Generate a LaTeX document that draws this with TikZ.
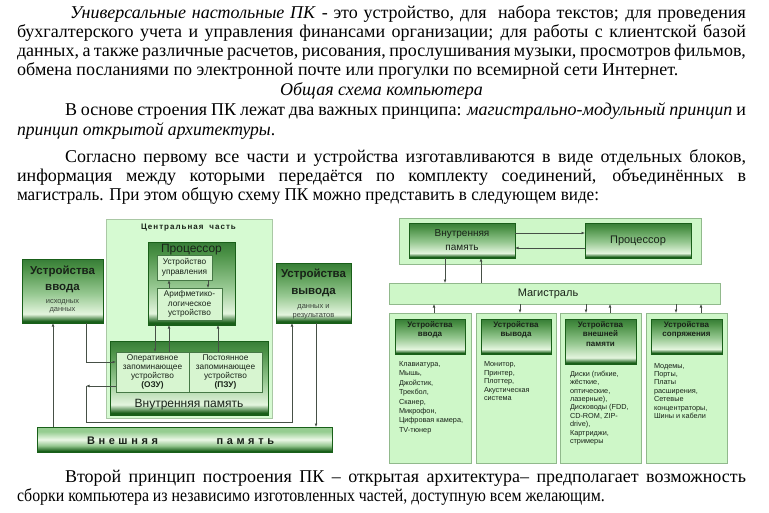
\documentclass[tikz,border=0pt]{standalone}
\usepackage{fontspec}
\usepackage{graphicx}
\setmainfont{Liberation Serif}
\setsansfont{Liberation Sans}
\usetikzlibrary{arrows.meta}
\definecolor{lgreen}{RGB}{206,247,200}
\definecolor{lborder}{RGB}{145,185,140}
\definecolor{cfill}{RGB}{214,250,210}
\definecolor{cborder}{RGB}{170,200,165}
\definecolor{gdk}{RGB}{25,95,25}
\definecolor{glt}{RGB}{228,245,222}
\definecolor{gsoft}{RGB}{150,200,145}
\definecolor{gmid}{RGB}{75,145,70}
\definecolor{gtop}{RGB}{55,125,55}
\definecolor{gwhite}{RGB}{235,248,230}
\definecolor{gsoft2}{RGB}{150,205,145}
\definecolor{ibord}{RGB}{70,120,70}
\definecolor{ifill}{RGB}{215,245,208}
\definecolor{linec}{RGB}{70,80,70}
\definecolor{txtc}{RGB}{25,35,25}
\pgfdeclareverticalshading{gbox}{100bp}{color(0bp)=(gdk); color(25bp)=(gdk); color(26.5bp)=(gdk); color(32bp)=(glt); color(48bp)=(gsoft); color(68bp)=(gmid); color(75bp)=(gtop); color(100bp)=(gtop)}
\pgfdeclareverticalshading{gbar}{100bp}{color(0bp)=(gdk); color(25bp)=(gdk); color(27bp)=(gdk); color(38bp)=(gsoft); color(50bp)=(gwhite); color(66bp)=(gsoft2); color(75bp)=(gsoft2); color(100bp)=(gsoft2)}
\newdimen\trkamt
\def\trk#1{\trkloop#1\relax}
\def\trkloop#1{\ifx#1\relax\else#1\kern\trkamt\expandafter\trkloop\fi}
\tikzset{
  body/.style={anchor=base west, inner sep=0pt, outer sep=0pt, font=\rmfamily\fontsize{18}{20}\selectfont},
  lightbox/.style={draw=lborder, fill=lgreen, line width=0.8pt, inner sep=0pt, outer sep=0pt},
  centralbox/.style={draw=cborder, fill=cfill, line width=1pt, inner sep=0pt, outer sep=0pt},
  darkbox/.style={draw=gdk, line width=1pt, shading=gbox, inner sep=0pt, outer sep=0pt},
  barbox/.style={draw=gdk, line width=1pt, shading=gbar, inner sep=0pt, outer sep=0pt},
  innerbox/.style={draw=ibord, fill=ifill, line width=0.6pt, inner sep=0pt, outer sep=0pt, align=center, text=txtc},
  arr/.style={draw=linec, line width=0.6pt, -{Latex[length=3.5pt,width=2.8pt]}},
  lbl/.style={inner sep=0pt, outer sep=0pt, font=\sffamily, text=txtc, align=center},
  items/.style={inner sep=0pt, outer sep=0pt, anchor=north west, align=left, text=txtc},
}
\begin{document}
\begin{tikzpicture}[x=1pt,y=-1pt]
\useasboundingbox (0,0) rectangle (769,512);
\fill[white] (0,0) rectangle (769,512);
% ---------- body text ----------
\node[body] (t1) at (70,18) {\makebox[676pt][s]{\textit{Универсальные настольные ПК} - это устройство, для\ \ набора текстов; для проведения}};
\node[body] (t2) at (17,37) {\makebox[729pt][s]{бухгалтерского учета и управления финансами организации; для работы с клиентской базой}};
\node[body] (t3) at (17,56) {\makebox[729pt][s]{данных, а также различные расчетов, рисования, прослушивания музыки, просмотров фильмов,}};
\node[body] (t4) at (17,75) {обмена посланиями по электронной почте или прогулки по всемирной сети Интернет.};
\node[body, anchor=base] (t5) at (381.5,95) {\textit{Общая схема компьютера}};
\node[body] (t6) at (65,115) {\makebox[681pt][s]{В основе строения ПК лежат два важных принципа: \textit{магистрально-модульный принцип} и}};
\node[body] (t7) at (17,135) {\scalebox{0.977}[1]{\textit{принцип открытой архитектуры}.}};
\node[body] (t8) at (65,162) {\makebox[681pt][s]{Согласно первому все части и устройства изготавливаются в виде отдельных блоков,}};
\node[body] (t9) at (17,181) {\makebox[729pt][s]{информация между которыми передаётся по комплекту соединений, объединённых в}};
\node[body] (t10) at (17,200) {\scalebox{0.951}[1]{магистраль. При этом общую схему ПК можно представить в следующем виде:}};
\node[body] (t11) at (65,482) {\makebox[681pt][s]{Второй принцип построения ПК – открытая архитектура– предполагает возможность}};
\node[body] (t12) at (17,501) {\scalebox{0.88}[1]{сборки компьютера из независимо изготовленных частей, доступную всем желающим.}};
% ---------- left diagram ----------
\node[centralbox, minimum width=166pt, minimum height=199pt] (central) at (189,318.5) {};
\node[lbl, font=\sffamily\bfseries\fontsize{8}{8}\selectfont] (centralT) at (189,228) {\trkamt=1pt \trk{Центральная}\hspace{5pt}\trk{часть}};
\node[darkbox, minimum width=87pt, minimum height=83pt] (proc) at (191.5,283.5) {};
\node[lbl, font=\sffamily\fontsize{12}{12}\selectfont] (procT) at (191.5,249.5) {Процессор};
\node[innerbox, minimum width=55pt, minimum height=25pt, font=\sffamily\fontsize{8.3}{9.5}\selectfont] (uu) at (184.5,267.5) {Устройство\\управления};
\node[innerbox, minimum width=65pt, minimum height=32pt, font=\sffamily\fontsize{8.3}{9.8}\selectfont] (alu) at (189.5,304) {Арифметико-\\логическое\\устройство};
\node[darkbox, minimum width=158pt, minimum height=74pt] (vp) at (189,378) {};
\node[innerbox, minimum width=73pt, minimum height=40pt, font=\sffamily\fontsize{8.3}{8.8}\selectfont] (ozu) at (152.5,372) {Оперативное\\запоминающее\\устройство\\\textbf{(ОЗУ)}};
\node[innerbox, minimum width=73pt, minimum height=40pt, font=\sffamily\fontsize{8.3}{8.8}\selectfont] (pzu) at (225.5,372) {Постоянное\\запоминающее\\устройство\\\textbf{(ПЗУ)}};
\node[lbl, font=\sffamily\fontsize{12}{12}\selectfont] (vpT) at (189,405) {Внутренняя память};
\node[darkbox, minimum width=81pt, minimum height=64pt] (vvoda) at (62.5,291) {};
\node[lbl, font=\sffamily\bfseries\fontsize{11.5}{15.5}\selectfont] (vvodaT) at (62.5,279.5) {Устройства\\ввода};
\node[lbl, font=\sffamily\fontsize{7.5}{8}\selectfont, text={rgb,255:red,60;green,70;blue,60}] (vvodaS) at (62.5,306.5) {исходных\\данных};
\node[darkbox, minimum width=75pt, minimum height=60pt] (vyvoda) at (313.5,293) {};
\node[lbl, font=\sffamily\bfseries\fontsize{11.5}{17.5}\selectfont] (vyvodaT) at (313.5,283) {Устройства\\вывода};
\node[lbl, font=\sffamily\fontsize{7.5}{9}\selectfont, text={rgb,255:red,60;green,70;blue,60}] (vyvodaS) at (313.5,311.5) {данных и\\результатов};
\node[barbox, minimum width=295pt, minimum height=25pt] (vnesh) at (184.5,439.5) {};
\node[lbl, anchor=base west, font=\sffamily\bfseries\fontsize{11}{11}\selectfont] (vneshT) at (87,444) {\trkamt=3.6pt \trk{Внешняя}\hspace{55pt}\trk{память}};
% connectors inside processor
\draw[arr] (alu.north -| 169,0) -- (uu.south -| 169,0);
\draw[arr] (uu.south -| 208,0) -- (alu.north -| 208,0);
\draw[arr] (proc.south -| 155,0) -- (ozu.north -| 155,0);
\draw[arr] (ozu.north -| 169,0) -- (proc.south -| 169,0);
\draw[arr] (pzu.north -| 218,0) -- (proc.south -| 218,0);
% outer connectors
\coordinate (k1) at (86,386);
\coordinate (k2) at (292,422);
\draw[arr] (vnesh.north -| 53,0) -- (vvoda.south -| 53,0);
\draw[arr] (vvoda.south -| 86,0) |- (ozu.west |- 0,362);
\draw[arr] (ozu.west |- k1) -- (k1);
\draw[arr] (k1) |- (k2) -- (vyvoda.south -| k2);
\draw[arr] (vyvoda.south -| 316,0) -- (vnesh.north -| 316,0);
% ---------- right diagram ----------
\node[lightbox, minimum width=302pt, minimum height=46pt] (rtop) at (550,241) {};
\node[darkbox, minimum width=106pt, minimum height=35pt] (rvp) at (462,240.5) {};
\node[lbl, font=\sffamily\fontsize{10}{14}\selectfont] (rvpT) at (462,240) {Внутренняя\\память};
\node[darkbox, minimum width=106pt, minimum height=35pt] (rproc) at (638,240.5) {};
\node[lbl, font=\sffamily\fontsize{11}{11}\selectfont] (rprocT) at (638,240.5) {Процессор};
\node[lightbox, minimum width=331pt, minimum height=21pt] (mag) at (554.5,293.5) {};
\node[lbl, font=\sffamily\fontsize{11}{11}\selectfont] (magT) at (548,294) {Магистраль};
\draw[arr] (rvp.east |- 0,233) -- (rproc.west |- 0,233);
\draw[arr] (rproc.west |- 0,248) -- (rvp.east |- 0,248);
\draw[arr] (rvp.south -| 445,0) -- (mag.north -| 445,0);
\draw[arr] (mag.north -| 481,0) -- (rvp.south -| 481,0);
% columns
\node[lightbox, minimum width=82pt, minimum height=150pt] (col1) at (430,388) {};
\node[lightbox, minimum width=80pt, minimum height=150pt] (col2) at (516,388) {};
\node[lightbox, minimum width=81pt, minimum height=150pt] (col3) at (600.5,388) {};
\node[lightbox, minimum width=81pt, minimum height=150pt] (col4) at (686.5,388) {};
\node[darkbox, minimum width=70pt, minimum height=35pt] (h1) at (430,336.5) {};
\node[darkbox, minimum width=70pt, minimum height=35pt] (h2) at (516,336.5) {};
\node[darkbox, minimum width=71pt, minimum height=45pt] (h3) at (600.5,341.5) {};
\node[darkbox, minimum width=71pt, minimum height=35pt] (h4) at (686.5,336.5) {};
\node[lbl, anchor=north, font=\sffamily\bfseries\fontsize{8}{9}\selectfont] (h1T) at (430,321.5) {Устройства\\ввода};
\node[lbl, anchor=north, font=\sffamily\bfseries\fontsize{8}{9}\selectfont] (h2T) at (516,321.5) {Устройства\\вывода};
\node[lbl, anchor=north, font=\sffamily\bfseries\fontsize{8}{9.5}\selectfont] (h3T) at (600.5,321.5) {Устройства\\внешней\\памяти};
\node[lbl, anchor=north, font=\sffamily\bfseries\fontsize{8}{9}\selectfont] (h4T) at (686.5,321.5) {Устройства\\сопряжения};
\node[items, font=\sffamily\fontsize{7.3}{9.4}\selectfont] (i1) at (399,361.5) {Клавиатура,\\Мышь,\\Джойстик,\\Трекбол,\\Сканер,\\Микрофон,\\Цифровая камера,\\TV-тюнер};
\node[items, font=\sffamily\fontsize{7.3}{8.6}\selectfont] (i2) at (484,361.5) {Монитор,\\Принтер,\\Плоттер,\\Акустическая\\система};
\node[items, font=\sffamily\fontsize{7.3}{8.4}\selectfont] (i3) at (570,371) {Диски (гибкие,\\жёсткие,\\оптические,\\лазерные),\\Дисководы (FDD,\\CD-ROM, ZIP-\\drive),\\Картриджи,\\стримеры};
\node[items, font=\sffamily\fontsize{7.3}{8.4}\selectfont] (i4) at (654,363) {Модемы,\\Порты,\\Платы\\расширения,\\Сетевые\\концентраторы,\\Шины и кабели};
\draw[arr] (col1.north -| 434,0) -- (mag.south -| 434,0);
\draw[arr] (mag.south -| 520,0) -- (col2.north -| 520,0);
\draw[arr] (mag.south -| 586,0) -- (col3.north -| 586,0);
\draw[arr] (col3.north -| 610,0) -- (mag.south -| 610,0);
\draw[arr] (mag.south -| 676,0) -- (col4.north -| 676,0);
\draw[arr] (col4.north -| 701,0) -- (mag.south -| 701,0);
\end{tikzpicture}
\end{document}
